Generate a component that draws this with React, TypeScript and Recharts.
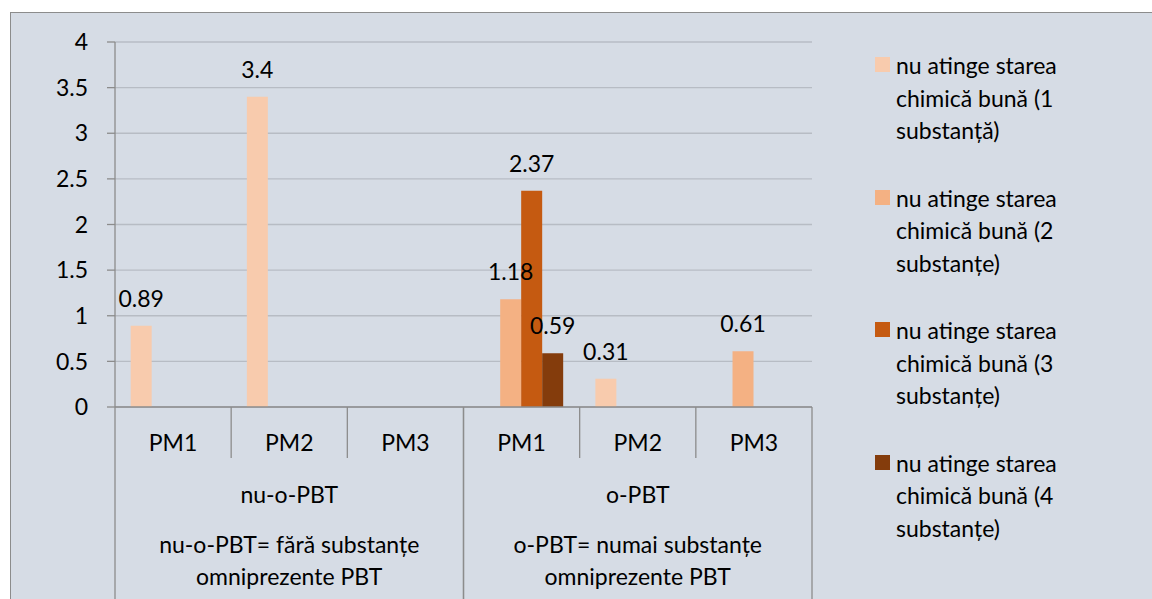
import React from 'react';
import { BarChart, Bar, XAxis, YAxis, CartesianGrid, LabelList } from 'recharts';

const categories = ['PM1', 'PM2', 'PM3', 'PM1', 'PM2', 'PM3'];
const groups = ['nu-o-PBT', 'o-PBT'];
const groupNotes = [
  ['nu-o-PBT= fără substanțe', 'omniprezente PBT'],
  ['o-PBT= numai substanțe', 'omniprezente PBT'],
];

const sub1 = [0.89, 3.4, null, null, 0.31, null];
const sub2 = [null, null, null, 1.18, null, 0.61];
const sub3 = [null, null, null, 2.37, null, null];
const sub4 = [null, null, null, 0.59, null, null];

const seriesNames = [
  ['nu atinge starea', 'chimică bună (1', 'substanță)'],
  ['nu atinge starea', 'chimică bună (2', 'substanțe)'],
  ['nu atinge starea', 'chimică bună (3', 'substanțe)'],
  ['nu atinge starea', 'chimică bună (4', 'substanțe)'],
];
const colors = ['#f8cbad', '#f4b183', '#c55a11', '#843c0c'];
const yTicks = [0, 0.5, 1, 1.5, 2, 2.5, 3, 3.5, 4];

const data = categories.map((c, i) => ({
  key: `${c}-${i}`,
  s1: sub1[i],
  s2: sub2[i],
  s3: sub3[i],
  s4: sub4[i],
}));

const FONT = 'Lato, sans-serif';
const FS = 23;
const W = 1152;
const H = 599;
const PLOT_TOP = 42;
const PLOT_BOTTOM = 407;
const PLOT_LEFT = 115;
const PLOT_RIGHT = 812;
const BAND = (PLOT_RIGHT - PLOT_LEFT) / categories.length;
const AXIS_GREY = '#8c8c8c';

function XTick(props: any) {
  const { x, y, index, payload } = props;
  const left = x - BAND / 2;
  const right = x + BAND / 2;
  const g = Math.floor(index / 3);
  return (
    <g>
      <line x1={left} y1={y} x2={left} y2={index % 3 === 0 ? H : y + 51} stroke={AXIS_GREY} strokeWidth={1.3} />
      {index % 3 === 2 && <line x1={right} y1={y} x2={right} y2={H} stroke={AXIS_GREY} strokeWidth={1.3} />}
      <text x={x} y={y + 35} textAnchor="middle" dominantBaseline="central" fontFamily={FONT} fontSize={FS} fill="#000">
        {payload.value.split('-')[0]}
      </text>
      {index % 3 === 1 && (
        <g fontFamily={FONT} fontSize={FS} fill="#000" textAnchor="middle">
          <text x={x} y={y + 87} dominantBaseline="central">{groups[g]}</text>
          <text x={x} y={y + 137} dominantBaseline="central">{groupNotes[g][0]}</text>
          <text x={x} y={y + 169} dominantBaseline="central">{groupNotes[g][1]}</text>
        </g>
      )}
    </g>
  );
}

function BarLabel(props: any) {
  const { x, y, width, value } = props;
  if (value == null) return null;
  return (
    <text x={x + width / 2} y={y - 19} textAnchor="middle" fontFamily={FONT} fontSize={FS} fill="#000">
      {value}
    </text>
  );
}

function LegendBox() {
  return (
    <div style={{ position: 'absolute', left: 875, top: 50, fontFamily: FONT, fontSize: FS, color: '#000' }}>
      {seriesNames.map((lines, i) => (
        <div key={i} style={{ position: 'relative', height: 132.5 }}>
          <div style={{ position: 'absolute', left: 0, top: 7, width: 15, height: 15, background: colors[i] }} />
          <div style={{ position: 'absolute', left: 21, top: 0 }}>
            {lines.map((l, j) => (
              <div key={j} style={{ height: 32.5, lineHeight: '30px', whiteSpace: 'nowrap' }}>{l}</div>
            ))}
          </div>
        </div>
      ))}
    </div>
  );
}

export default function App() {
  const keys = ['s1', 's2', 's3', 's4'];
  return (
    <div style={{ position: 'absolute', left: 0, top: 0, width: W, height: H, background: '#fff', overflow: 'hidden' }}>
      <div
        style={{
          position: 'absolute',
          left: 10,
          top: 12,
          width: W - 10,
          height: H - 12,
          background: '#d6dce5',
          borderLeft: '1.5px solid #8c8c8c',
          borderTop: '1.5px solid #8c8c8c',
        }}
      />
      <div style={{ position: 'absolute', left: 0, top: 0 }}>
        <BarChart
          width={W}
          height={H}
          data={data}
          margin={{ top: PLOT_TOP, right: W - PLOT_RIGHT, left: 0, bottom: 0 }}
          barCategoryGap="13.5%"
          barGap={0}
        >
          <CartesianGrid horizontal vertical={false} stroke="#b7bcc4" strokeWidth={1.3} />
          <XAxis
            dataKey="key"
            height={H - PLOT_BOTTOM}
            interval={0}
            tickLine={false}
            tickSize={0}
            tickMargin={0}
            axisLine={{ stroke: AXIS_GREY, strokeWidth: 1.3 }}
            tick={<XTick />}
          />
          <YAxis
            width={PLOT_LEFT}
            domain={[0, 4]}
            ticks={yTicks}
            interval={0}
            tickSize={8}
            tickMargin={19}
            axisLine={{ stroke: AXIS_GREY, strokeWidth: 1.3 }}
            tickLine={{ stroke: AXIS_GREY, strokeWidth: 1.3 }}
            tick={{ fontFamily: FONT, fontSize: FS, fill: '#000' }}
          />
          {keys.map((k, i) => (
            <Bar key={k} dataKey={k} fill={colors[i]} isAnimationActive={false}>
              <LabelList dataKey={k} content={<BarLabel />} />
            </Bar>
          ))}
        </BarChart>
      </div>
      <LegendBox />
    </div>
  );
}
